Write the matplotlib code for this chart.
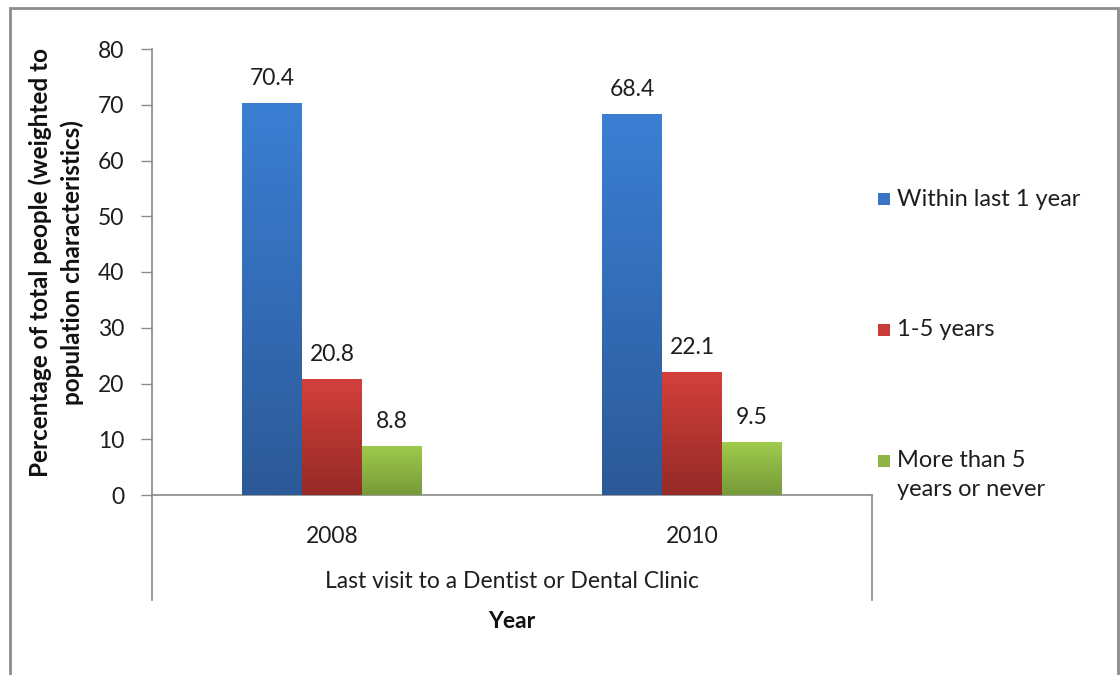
import numpy as np
import matplotlib
matplotlib.use('Agg')
import matplotlib.pyplot as plt
from matplotlib.colors import LinearSegmentedColormap
from matplotlib.patches import Rectangle

plt.rcParams['font.family'] = ['Lato', 'DejaVu Sans']

# data
years = ['2008', '2010']
series = ['Within last 1 year', '1-5 years', 'More than 5\nyears or never']
within_1yr = [70.4, 68.4]
one_to_five = [20.8, 22.1]
more_than_5 = [8.8, 9.5]
values = [within_1yr, one_to_five, more_than_5]

# gradient colours (top, bottom) per series
grads = [('#3b7fd4', '#2c5997'), ('#d4403c', '#952a27'), ('#9fcb4c', '#779a3a')]
legend_cols = ['#3a74c4', '#c83c38', '#8db545']
text_col = '#1e1e1e'
axis_col = '#8a8a8a'

fig = plt.figure(figsize=(11.2, 6.75), dpi=100)
ax = fig.add_axes([152/1120, 1-495/675, 720/1120, 446/675])

x = np.arange(len(years))
w = 1/6
for i, vals in enumerate(values):
    bars = ax.bar(x + (i-1)*w, vals, width=w, color=grads[i][1], linewidth=0, zorder=2)
    cmap = LinearSegmentedColormap.from_list('g%d' % i, [grads[i][1], grads[i][0]])
    grad = np.linspace(0, 1, 256).reshape(-1, 1)
    for b, v in zip(bars, vals):
        bx, by = b.get_x(), b.get_y()
        im = ax.imshow(grad, cmap=cmap, origin='lower', aspect='auto',
                       extent=[bx, bx + b.get_width(), by, by + b.get_height()], zorder=3)
        im.set_clip_path(b)
        ax.annotate('%.1f' % v, (bx + b.get_width()/2, v), xytext=(0, 10),
                    textcoords='offset points', ha='center', va='bottom',
                    fontsize=16.5, color=text_col, zorder=4)

ax.set_xlim(-0.5, 1.5)
ax.set_ylim(0, 80)
ax.set_yticks(range(0, 81, 10))
ax.set_xticks(x)
ax.set_xticklabels(years)
ax.tick_params(axis='y', length=8, width=1, color=axis_col, labelsize=16.5, labelcolor=text_col, pad=12)
ax.tick_params(axis='x', length=0, labelsize=16.5, labelcolor=text_col, pad=22)
for s in ['top', 'right']:
    ax.spines[s].set_visible(False)
for s in ['left', 'bottom']:
    ax.spines[s].set_color(axis_col)
    ax.spines[s].set_linewidth(1.2)

# multi-level category axis lines
ax.plot([0, 0], [0, -0.236], transform=ax.transAxes, color=axis_col, lw=1.2, clip_on=False)
ax.plot([1, 1], [0, -0.236], transform=ax.transAxes, color=axis_col, lw=1.2, clip_on=False)
ax.text(0.5, -0.193, 'Last visit to a Dentist or Dental Clinic', transform=ax.transAxes,
        ha='center', va='center', fontsize=16.5, color=text_col)

ax.set_xlabel('Year', fontsize=16.5, fontweight='bold', color='#111111', labelpad=0)
ax.xaxis.set_label_coords(0.5, -0.26)

fig.text(56/1120, 1-263/675, 'Percentage of total people (weighted to\npopulation characteristics)',
         rotation=90, ha='center', va='center', multialignment='center',
         fontsize=17.5, fontweight='bold', color='#111111', linespacing=1.45)

# legend
leg_y = [199, 330, 461]
for i, name in enumerate(series):
    fig.patches.append(Rectangle((878/1120, 1-(leg_y[i]+6)/675), 12/1120, 12/675,
                                 transform=fig.transFigure, facecolor=legend_cols[i],
                                 edgecolor='none'))
    fig.text(897/1120, 1-(leg_y[i]-11)/675 if '\n' in name else 1-leg_y[i]/675, name,
             ha='left', va='top' if '\n' in name else 'center',
             fontsize=17, color=text_col, linespacing=1.45)

# chart frame
fig.patches.append(Rectangle((10/1120, -0.05), 1108/1120, 1.05 - 8/675, transform=fig.transFigure,
                             fill=False, edgecolor='#8c8c8c', linewidth=2))

plt.savefig('out.png', dpi=100)
